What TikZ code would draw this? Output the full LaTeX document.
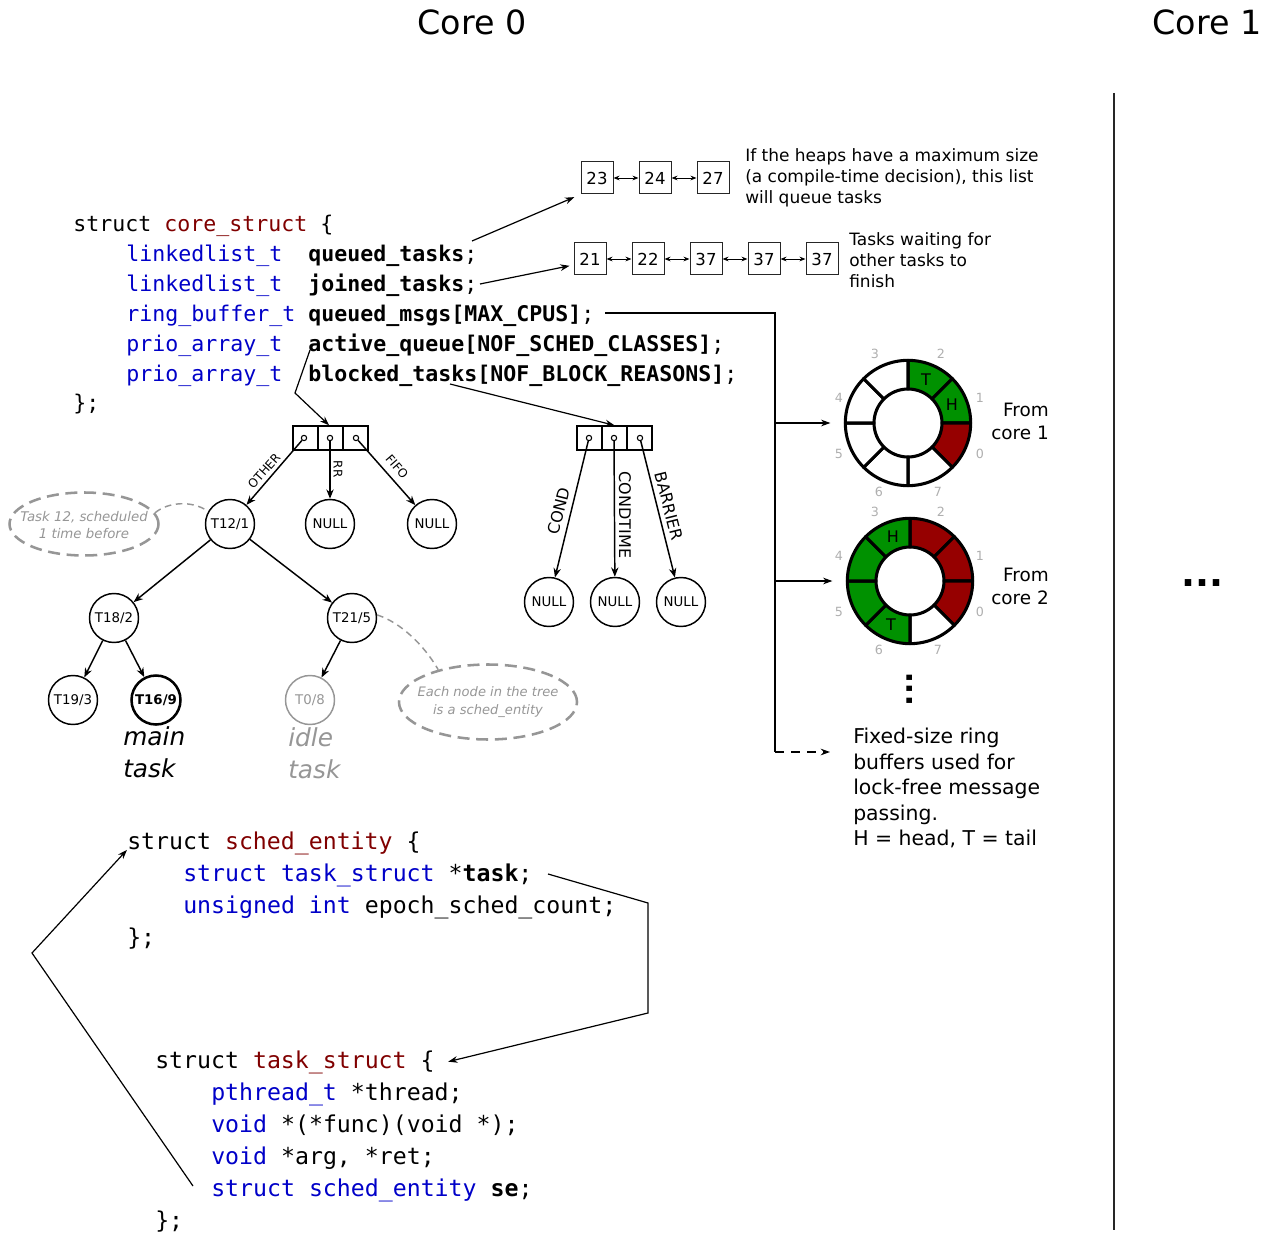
\documentclass[tikz,border=0pt]{standalone}
\usepackage{fontspec}
\setmainfont{DejaVu Sans}
\setmonofont{DejaVu Sans Mono}
\usetikzlibrary{arrows.meta,shapes.geometric}
\definecolor{codeblue}{RGB}{0,0,200}
\definecolor{codered}{RGB}{128,0,0}
\definecolor{ringgreen}{RGB}{0,145,0}
\definecolor{ringred}{RGB}{150,0,0}
\definecolor{lblgray}{RGB}{175,175,175}
\definecolor{dashgray}{RGB}{150,150,150}
\newcommand\Kw[1]{\textcolor{codeblue}{#1}}
\newcommand\Sn[1]{\textcolor{codered}{#1}}
\newcommand\RingSeg[4]{%
  \filldraw[fill=#4, draw=black, line width=2.3pt, line join=round]
   ([shift={(#2:47pt)}]#1) arc[start angle=#2, end angle=#3, radius=47pt]
   -- ([shift={(#3:25.5pt)}]#1) arc[start angle=#3, end angle=#2, radius=25.5pt] -- cycle;}
\begin{document}
\begin{tikzpicture}[x=0.75pt,y=-0.75pt,
  conn/.style={line width=0.9pt},
  arr/.style={conn,-{Stealth[length=7pt,width=5pt]}},
  tarr/.style={line width=1.1pt,-{Stealth[length=7pt,width=5.5pt]}},
  code/.style={anchor=west,inner sep=0pt,yshift=-3.75pt,text height=0.72em,text depth=0.22em,font=\fontsize{16.2}{20}\ttfamily},
  bcode/.style={code,font=\fontsize{17.4}{21}\ttfamily},
  lbox/.style={draw=black!85,line width=0.75pt,minimum width=24pt,minimum height=24pt,inner sep=0pt,font=\fontsize{12.4}{14}\selectfont},
  dbl/.style={line width=0.7pt,{Stealth[length=4.5pt,width=3.5pt]}-{Stealth[length=4.5pt,width=3.5pt]}},
  tnode/.style={circle,draw,line width=1.1pt,minimum size=36.75pt,inner sep=0pt,font=\fontsize{10}{12}\selectfont},
  pbox/.style={draw,line width=1pt,minimum width=18.75pt,minimum height=18pt,inner sep=0pt},
  pdot/.style={circle,draw,fill=white,line width=0.8pt,minimum size=4pt,inner sep=0pt},
  elbl/.style={inner sep=0pt,font=\fontsize{9}{10}\selectfont},
  elblb/.style={inner sep=0pt,font=\fontsize{12}{13}\selectfont},
  rlbl/.style={inner sep=0pt,text=lblgray,font=\fontsize{9.5}{10}\selectfont},
  htlbl/.style={inner sep=0pt,font=\fontsize{12}{13}\selectfont},
  dellipse/.style={ellipse,draw=dashgray,line width=1.9pt,dash pattern=on 9pt off 5pt,inner sep=0pt},
  etext/.style={inner sep=0pt,align=center,text=dashgray},
  dconn/.style={draw=dashgray,line width=1.1pt,dash pattern=on 5pt off 3.5pt},
  ringhole/.style={circle,minimum size=94pt,inner sep=0pt}
]
\useasboundingbox (0,0) rectangle (1272,1234);

% titles and separator
\node[font=\fontsize{25}{30}\selectfont] (core0) at (472,22) {Core 0};
\node[font=\fontsize{25}{30}\selectfont] (core1) at (1207,22) {Core 1};
\coordinate (vtop) at (1114,93);
\coordinate (vbot) at (1114,1230);
\draw[line width=1.5pt,black!85] (vtop) -- (vbot);
\node[font=\fontsize{27.6}{30}\bfseries] (hdots) at (1202,583) {...};

% core_struct
\node[code] (c0) at (73,223) {struct \Sn{core\_struct} \{};
\node[code] (ty1) at (126,253) {\Kw{linkedlist\_t}};
\node[code] (f1) at (308,253) {\textbf{queued\_tasks};};
\node[code] (ty2) at (126,283) {\Kw{linkedlist\_t}};
\node[code] (f2) at (308,283) {\textbf{joined\_tasks};};
\node[code] (ty3) at (126,313) {\Kw{ring\_buffer\_t}};
\node[code] (f3) at (308,313) {\textbf{queued\_msgs[MAX\_CPUS]};};
\node[code] (ty4) at (126,343) {\Kw{prio\_array\_t}};
\node[code] (f4) at (308,343) {\textbf{active\_queue[NOF\_SCHED\_CLASSES]};};
\node[code] (ty5) at (126,373) {\Kw{prio\_array\_t}};
\node[code] (f5) at (308,373) {\textbf{blocked\_tasks[NOF\_BLOCK\_REASONS]};};
\node[code] (c6) at (73,402) {\};};

% linked lists
\node[lbox] (l23) at (597,178) {23};
\node[lbox] (l24) at (655,178) {24};
\node[lbox] (l27) at (713,178) {27};
\draw[dbl] (l23) -- (l24);
\draw[dbl] (l24) -- (l27);
\node[anchor=west,align=left,inner sep=0pt,font=\fontsize{12.75}{15.75}\selectfont] (note1) at (745,178)
  {If the heaps have a maximum size\\(a compile-time decision), this list\\will queue tasks};

\node[lbox] (l21) at (590,259) {21};
\node[lbox] (l22) at (648,259) {22};
\node[lbox] (l37a) at (706,259) {37};
\node[lbox] (l37b) at (764,259) {37};
\node[lbox] (l37c) at (822,259) {37};
\draw[dbl] (l21) -- (l22);
\draw[dbl] (l22) -- (l37a);
\draw[dbl] (l37a) -- (l37b);
\draw[dbl] (l37b) -- (l37c);
\node[anchor=west,align=left,inner sep=0pt,font=\fontsize{12.75}{15.75}\selectfont] (note2) at (849,260)
  {Tasks waiting for\\other tasks to\\finish};

\coordinate (qt0) at (472,241);
\coordinate (jt0) at (480,284);
\draw[arr,shorten >=5pt] (qt0) -- (l23.south west);
\draw[arr,shorten >=3pt] (jt0) -- (l21.200);

% ring buffers
\node[ringhole] (r1) at (908,423) {};
\node[ringhole] (r2) at (910,581) {};
\RingSeg{r1.center}{90}{45}{ringgreen}
\RingSeg{r1.center}{45}{0}{ringgreen}
\RingSeg{r1.center}{0}{-45}{ringred}
\RingSeg{r1.center}{-45}{-90}{white}
\RingSeg{r1.center}{-90}{-135}{white}
\RingSeg{r1.center}{-135}{-180}{white}
\RingSeg{r1.center}{180}{135}{white}
\RingSeg{r1.center}{135}{90}{white}
\RingSeg{r2.center}{90}{45}{ringred}
\RingSeg{r2.center}{45}{0}{ringred}
\RingSeg{r2.center}{0}{-45}{ringred}
\RingSeg{r2.center}{-45}{-90}{white}
\RingSeg{r2.center}{-90}{-135}{ringgreen}
\RingSeg{r2.center}{-135}{-180}{ringgreen}
\RingSeg{r2.center}{180}{135}{ringgreen}
\RingSeg{r2.center}{135}{90}{ringgreen}
\node[htlbl] (r1t) at (926,380) {T};
\node[htlbl] (r1h) at (952,405) {H};
\node[htlbl] (r2h) at (893,537) {H};
\node[htlbl] (r2t) at (891,625) {T};
\foreach \rc/\cy in {a/423,b/581}{
  \node[rlbl] (n3\rc) at (875,\cy-69) {3};
  \node[rlbl] (n2\rc) at (941,\cy-69) {2};
  \node[rlbl] (n1\rc) at (980,\cy-25) {1};
  \node[rlbl] (n0\rc) at (980,\cy+31) {0};
  \node[rlbl] (n7\rc) at (938,\cy+69) {7};
  \node[rlbl] (n6\rc) at (879,\cy+69) {6};
  \node[rlbl] (n5\rc) at (839,\cy+31) {5};
  \node[rlbl] (n4\rc) at (839,\cy-25) {4};
}
\node[anchor=east,align=right,inner sep=0pt,font=\fontsize{13.8}{17.25}\selectfont] (from1) at (1049,421) {From\\core 1};
\node[anchor=east,align=right,inner sep=0pt,font=\fontsize{13.8}{17.25}\selectfont] (from2) at (1049,586) {From\\core 2};
\node[rotate=90,font=\fontsize{22.5}{25}\bfseries] (vdots) at (910,689) {...};
\node[anchor=west,align=left,inner sep=0pt,font=\fontsize{15.3}{19.1}\selectfont] (note3) at (853,788)
  {Fixed-size ring\\buffers used for\\lock-free message\\passing.\\H = head, T = tail};

% queued_msgs connector
\coordinate (m0) at (605,313);
\coordinate (m1) at (775,313);
\coordinate (m2) at (775,752);
\coordinate (m3) at (830,752);
\coordinate (b1) at (775,423);
\coordinate (b2) at (775,581);
\draw[conn] (m0) -- (m1) -- (m2);
\draw[arr,dash pattern=on 7pt off 5pt] (m2) -- (m3);
\draw[arr,shorten >=11pt] (b1) -- (r1.west);
\draw[arr,shorten >=11pt] (b2) -- (r2.west);

% prio arrays
\node[pbox] (pa1) at (305.5,438) {};
\node[pbox] (pa2) at (330.5,438) {};
\node[pbox] (pa3) at (355.5,438) {};
\node[pdot] (da1) at (304,438) {};
\node[pdot] (da2) at (330,438) {};
\node[pdot] (da3) at (356,438) {};
\node[pbox] (pb1) at (589.5,438) {};
\node[pbox] (pb2) at (614.5,438) {};
\node[pbox] (pb3) at (639.5,438) {};
\node[pdot] (db1) at (589,438) {};
\node[pdot] (db2) at (614,438) {};
\node[pdot] (db3) at (640,438) {};

\coordinate (aq0) at (310,350);
\coordinate (aq1) at (295,393);
\draw[arr] (aq0) -- (aq1) -- ([xshift=-1pt]pa2.north);
\coordinate (bt0) at (450,384);
\draw[arr] (bt0) -- (pb2.north);

% trees
\node[tnode] (t12) at (230,524) {T12/1};
\node[tnode] (null1) at (330,524) {NULL};
\node[tnode] (null2) at (432,524) {NULL};
\node[tnode] (t18) at (114,618) {T18/2};
\node[tnode] (t21) at (352,618) {T21/5};
\node[tnode] (t19) at (73,700) {T19/3};
\node[tnode,line width=1.9pt,font=\fontsize{10}{12}\bfseries] (t16) at (156,700) {T16/9};
\node[tnode,draw=dashgray,text=dashgray] (t0) at (310,700) {T0/8};
\node[tnode] (nb1) at (549,602) {NULL};
\node[tnode] (nb2) at (615,602) {NULL};
\node[tnode] (nb3) at (681,602) {NULL};

\draw[tarr] (da1) -- (t12);
\draw[tarr] (da2) -- (null1);
\draw[tarr] (da3) -- (null2);
\draw[tarr] (db1) -- (nb1);
\draw[tarr] (db2) -- (nb2);
\draw[tarr] (db3) -- (nb3);
\draw[tarr] (t12) -- (t18);
\draw[tarr] (t12) -- (t21);
\draw[tarr] (t18) -- (t19);
\draw[tarr] (t18) -- (t16);
\draw[tarr] (t21) -- (t0);

\node[elbl,rotate=48] (lother) at (264,471) {OTHER};
\node[elbl,rotate=-90] (lrr) at (338,469) {RR};
\node[elbl,rotate=-49] (lfifo) at (397,467) {FIFO};
\node[elblb,rotate=76] (lcond) at (559,511) {COND};
\node[elblb,rotate=-90] (lcondt) at (625,515) {CONDTIME};
\node[elblb,rotate=-76] (lbarr) at (669,506) {BARRIER};

\node[dellipse,minimum width=111.75pt,minimum height=47.25pt] (e1) at (84,524) {};
\node[etext,font=\fontsize{10}{12.75}\itshape] (e1t) at (84,525) {Task 12, scheduled\\1 time before};
\node[dellipse,minimum width=133.5pt,minimum height=56.25pt] (e2) at (488,702) {};
\node[etext,font=\fontsize{9.8}{13.5}\itshape] (e2t) at (488,702) {Each node in the tree\\is a sched\_entity};
\draw[dconn] (e1.9) .. controls (168,502) and (192,500) .. (t12.150);
\draw[dconn] (t21.7) .. controls (400,622) and (424,645) .. (e2.147);

\node[anchor=west,align=left,inner sep=0pt,font=\fontsize{18.6}{24}\itshape] (mainlbl) at (123,752) {main\\task};
\node[anchor=west,align=left,inner sep=0pt,text=dashgray,font=\fontsize{18.6}{24}\itshape] (idlelbl) at (288,753) {idle\\task};

% sched_entity
\node[bcode] (s0) at (127,841) {struct \Sn{sched\_entity} \{};
\node[bcode] (s1) at (183,873) {\Kw{struct task\_struct} *\textbf{task};};
\node[bcode] (s2) at (183,905) {\Kw{unsigned int} epoch\_sched\_count;};
\node[bcode] (s3) at (127,937) {\};};

% task_struct
\node[bcode] (k0) at (155,1060) {struct \Sn{task\_struct} \{};
\node[bcode] (k1) at (211,1092) {\Kw{pthread\_t} *thread;};
\node[bcode] (k2) at (211,1124) {\Kw{void} *(*func)(void *);};
\node[bcode] (k3) at (211,1156) {\Kw{void} *arg, *ret;};
\node[bcode] (k4) at (211,1188) {\Kw{struct sched\_entity} \textbf{se};};
\node[bcode] (k5) at (155,1220) {\};};

\coordinate (p0) at (548,874);
\coordinate (p1) at (648,903);
\coordinate (p2) at (648,1013);
\draw[arr] (p0) -- (p1) -- (p2) -- ([xshift=10pt,yshift=2.5pt]k0.east);
\coordinate (q0) at (193,1186);
\coordinate (q1) at (32,953);
\draw[arr] (q0) -- (q1) -- ([yshift=2pt]s0.south west);
\end{tikzpicture}
\end{document}
